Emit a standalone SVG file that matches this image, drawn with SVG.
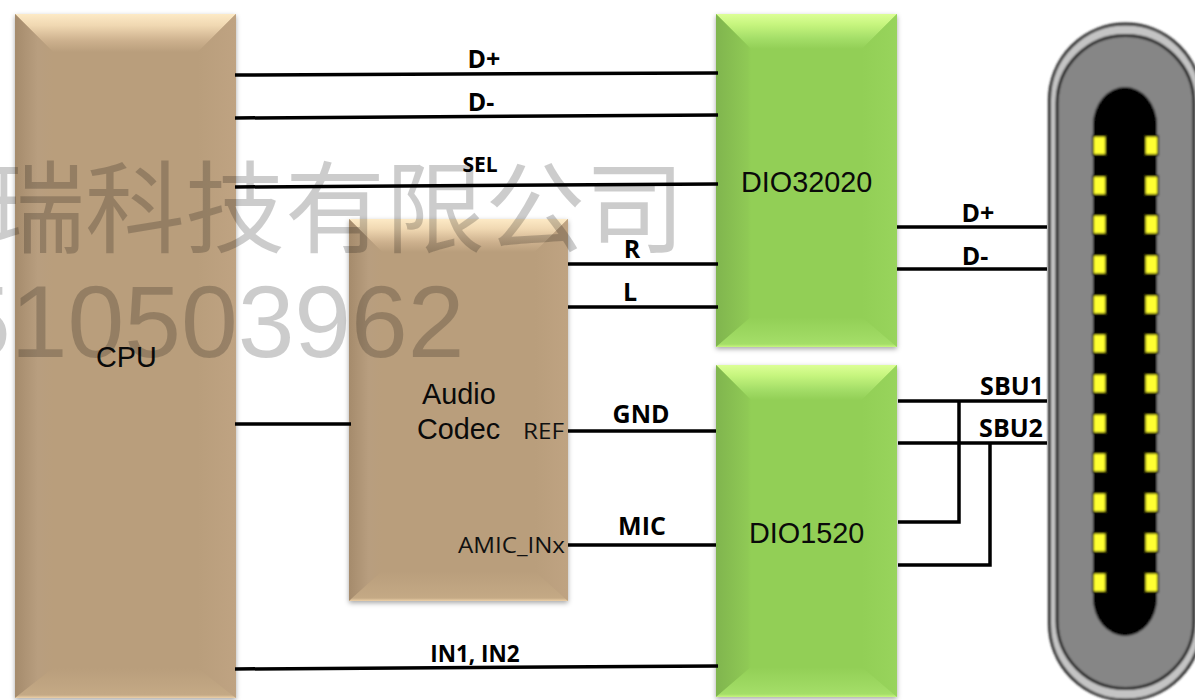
<svg xmlns="http://www.w3.org/2000/svg" width="1195" height="700" viewBox="0 0 1195 700">
<style>
.wire{fill:none;stroke:#000;stroke-width:3.500}
.ntext{font-family:"Liberation Sans",Arial,sans-serif;font-size:28.800px;fill:#0a0a0a}
.lab{font-family:"Open Sans","Liberation Sans",sans-serif;font-weight:700;font-size:25px;fill:#000;text-anchor:middle}
.pin{font-family:"Open Sans","Liberation Sans",sans-serif;font-size:22.500px;fill:#111;text-anchor:end}
.wm{fill:#000;fill-opacity:.2}
.pinb{fill:#ffff30;stroke:#1a1a00;stroke-width:2}
</style>
<defs>
<filter id="sh" x="-10%" y="-10%" width="120%" height="120%"><feDropShadow dx="0" dy="2" stdDeviation="2.500" flood-color="#000" flood-opacity=".35"/></filter>
<filter id="soft" x="-5%" y="-5%" width="110%" height="110%"><feGaussianBlur stdDeviation=".8"/></filter>
<linearGradient id="tanTop" x1="0" y1="0" x2="0" y2="1"><stop offset="0" stop-color="#fdeac6"/><stop offset=".3" stop-color="#f0d8b2"/><stop offset=".7" stop-color="#cdb18e"/><stop offset="1" stop-color="#b99e7c"/></linearGradient>
<linearGradient id="tanL" x1="0" y1="0" x2="1" y2="0"><stop offset="0" stop-color="#a58b6c"/><stop offset=".6" stop-color="#b89e7f"/><stop offset="1" stop-color="#b99e7c"/></linearGradient>
<linearGradient id="tanR" x1="0" y1="0" x2="1" y2="0"><stop offset="0" stop-color="#b99e7c"/><stop offset="1" stop-color="#bfa382"/></linearGradient>
<linearGradient id="tanB" x1="0" y1="0" x2="0" y2="1"><stop offset="0" stop-color="#b99e7c"/><stop offset=".9" stop-color="#c4a985"/><stop offset="1" stop-color="#ecd0a8"/></linearGradient>
<linearGradient id="grnTop" x1="0" y1="0" x2="0" y2="1"><stop offset="0" stop-color="#dcff96"/><stop offset=".3" stop-color="#c6f57e"/><stop offset=".7" stop-color="#a4de68"/><stop offset="1" stop-color="#92cf56"/></linearGradient>
<linearGradient id="grnL" x1="0" y1="0" x2="1" y2="0"><stop offset="0" stop-color="#80b54e"/><stop offset=".9" stop-color="#8fc955"/><stop offset="1" stop-color="#92cf56"/></linearGradient>
<linearGradient id="grnR" x1="0" y1="0" x2="1" y2="0"><stop offset="0" stop-color="#92cf56"/><stop offset="1" stop-color="#98d45c"/></linearGradient>
<linearGradient id="grnB" x1="0" y1="0" x2="0" y2="1"><stop offset="0" stop-color="#92cf56"/><stop offset=".9" stop-color="#a4de68"/><stop offset="1" stop-color="#c6f57e"/></linearGradient>
</defs>

<g id="cpu">
<g filter="url(#sh)"><rect x="15" y="14" width="221" height="684" fill="#b99e7c"/></g>
<polygon points="15,14 236,14 198,52 53,52" fill="url(#tanTop)"/>
<polygon points="15,14 53,52 53,668 15,698" fill="url(#tanL)"/>
<polygon points="236,14 198,52 198,668 236,698" fill="url(#tanR)"/>
<polygon points="15,698 53,668 198,668 236,698" fill="url(#tanB)"/>
<text class="ntext" x="96" y="367">CPU</text>
</g>

<g id="codec">
<g filter="url(#sh)"><rect x="349" y="219" width="219" height="382" fill="#b99e7c"/></g>
<polygon points="349,219 568,219 535,252 382,252" fill="url(#tanTop)"/>
<polygon points="349,219 382,252 382,571 349,601" fill="url(#tanL)"/>
<polygon points="568,219 535,252 535,571 568,601" fill="url(#tanR)"/>
<polygon points="349,601 382,571 535,571 568,601" fill="url(#tanB)"/>
<text class="ntext" x="422" y="404">Audio</text>
<text class="ntext" x="417" y="439">Codec</text>
<text class="pin" x="564" y="439" textLength="41" lengthAdjust="spacingAndGlyphs">REF</text>
<text class="pin" x="565" y="553" textLength="107" lengthAdjust="spacingAndGlyphs">AMIC_INx</text>
</g>

<g id="dio32020">
<g filter="url(#sh)"><rect x="716" y="14" width="181" height="333" fill="#92cf56"/></g>
<polygon points="716,14 897,14 862,49 751,49" fill="url(#grnTop)"/>
<polygon points="716,14 751,49 751,317 716,347" fill="url(#grnL)"/>
<polygon points="897,14 862,49 862,317 897,347" fill="url(#grnR)"/>
<polygon points="716,347 751,317 862,317 897,347" fill="url(#grnB)"/>
<text class="ntext" x="741" y="192">DIO32020</text>
</g>

<g id="dio1520">
<g filter="url(#sh)"><rect x="716" y="365" width="181" height="332" fill="#92cf56"/></g>
<polygon points="716,365 897,365 862,400 751,400" fill="url(#grnTop)"/>
<polygon points="716,365 751,400 751,667 716,697" fill="url(#grnL)"/>
<polygon points="897,365 862,400 862,667 897,697" fill="url(#grnR)"/>
<polygon points="716,697 751,667 862,667 897,697" fill="url(#grnB)"/>
<text class="ntext" x="749" y="543">DIO1520</text>
</g>

<g id="connectors">
<path class="wire" d="M235 75L718 73"/>
<path class="wire" d="M235 118L718 115"/>
<path class="wire" d="M235 187L718 184"/>
<path class="wire" d="M568 264H718"/>
<path class="wire" d="M568 307H718"/>
<path class="wire" d="M568 431H716"/>
<path class="wire" d="M568 545H716"/>
<path class="wire" d="M235 424H351"/>
<path class="wire" d="M235 669L718 666"/>
<path class="wire" d="M897 227H1047"/>
<path class="wire" d="M897 269H1047"/>
<path class="wire" d="M898 401H1047"/>
<path class="wire" d="M898 443H1047"/>
<path class="wire" d="M959 401V522H898"/>
<path class="wire" d="M990 443V565H898"/>
</g>

<g id="usb-c" filter="url(#soft)">
<rect x="1049.500" y="24" width="152" height="676" rx="76" ry="76" fill="#c4c4c4" stroke="#222" stroke-width="3"/>
<rect x="1057" y="35.500" width="137" height="653" rx="68" ry="68" fill="#868686" stroke="#222" stroke-width="3"/>
<rect x="1093" y="87" width="64" height="549" rx="32" ry="38" fill="#000"/>
<g class="pins">
<rect class="pinb" x="1093" y="136" width="13" height="19"/><rect class="pinb" x="1145" y="136" width="13" height="19"/>
<rect class="pinb" x="1093" y="176" width="13" height="19"/><rect class="pinb" x="1145" y="176" width="13" height="19"/>
<rect class="pinb" x="1093" y="215" width="13" height="19"/><rect class="pinb" x="1145" y="215" width="13" height="19"/>
<rect class="pinb" x="1093" y="255" width="13" height="19"/><rect class="pinb" x="1145" y="255" width="13" height="19"/>
<rect class="pinb" x="1093" y="295" width="13" height="19"/><rect class="pinb" x="1145" y="295" width="13" height="19"/>
<rect class="pinb" x="1093" y="334" width="13" height="19"/><rect class="pinb" x="1145" y="334" width="13" height="19"/>
<rect class="pinb" x="1093" y="374" width="13" height="19"/><rect class="pinb" x="1145" y="374" width="13" height="19"/>
<rect class="pinb" x="1093" y="414" width="13" height="19"/><rect class="pinb" x="1145" y="414" width="13" height="19"/>
<rect class="pinb" x="1093" y="453" width="13" height="19"/><rect class="pinb" x="1145" y="453" width="13" height="19"/>
<rect class="pinb" x="1093" y="493" width="13" height="19"/><rect class="pinb" x="1145" y="493" width="13" height="19"/>
<rect class="pinb" x="1093" y="533" width="13" height="19"/><rect class="pinb" x="1145" y="533" width="13" height="19"/>
<rect class="pinb" x="1093" y="573" width="13" height="19"/><rect class="pinb" x="1145" y="573" width="13" height="19"/>
</g>
</g>

<g id="labels">
<text class="lab" x="484" y="68">D+</text>
<text class="lab" x="481" y="111">D-</text>
<text class="lab" x="480" y="172" style="font-size:21px">SEL</text>
<text class="lab" x="632" y="258">R</text>
<text class="lab" x="630" y="301">L</text>
<text class="lab" x="641" y="423">GND</text>
<text class="lab" x="642" y="535">MIC</text>
<text class="lab" x="475" y="662" style="font-size:22.500px">IN1, IN2</text>
<text class="lab" x="978" y="222">D+</text>
<text class="lab" x="975" y="265">D-</text>
<text class="lab" x="1012" y="395">SBU1</text>
<text class="lab" x="1011" y="437">SBU2</text>
</g>

<g id="watermark">
<text class="wm" x="-15" y="245" font-size="100" font-family="'Noto Sans CJK SC',sans-serif">瑞科技有限公司</text>
<text class="wm" x="-46" y="357" font-size="102" font-family="'Liberation Sans',sans-serif">510503962</text>
</g>
</svg>
